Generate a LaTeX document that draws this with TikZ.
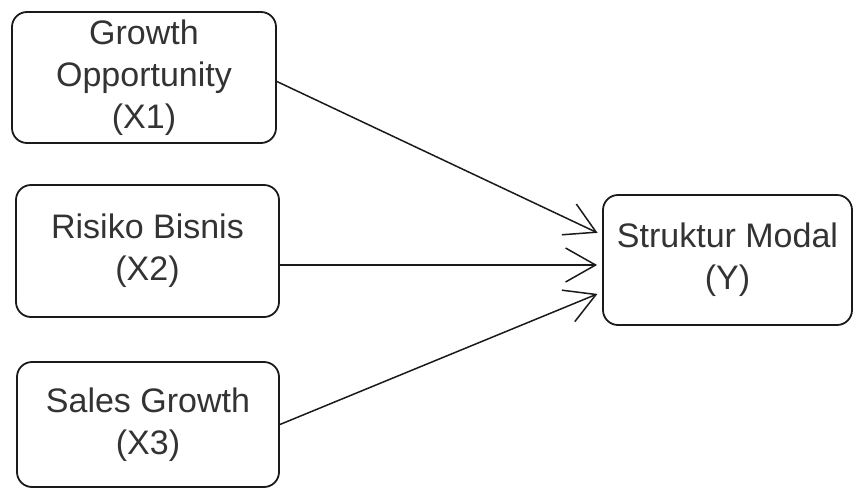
\documentclass[tikz,border=0pt]{standalone}
\usepackage{fontspec}
\setmainfont{Liberation Sans}
\usetikzlibrary{arrows.meta}
\definecolor{txt}{HTML}{333333}
\definecolor{edge}{HTML}{1A1A1A}
\begin{document}
\begin{tikzpicture}[x=1pt,y=1pt,
  box/.style={draw=edge, line width=1.8pt, rounded corners=15pt, align=center,
    font=\fontsize{34}{42}\selectfont, text=txt, inner sep=0pt},
  conn/.style={draw=edge, line width=1.5pt, -{Straight Barb[length=30pt,width=34pt,line width=1.5pt]}, shorten >=5pt}]
\useasboundingbox (0,0) rectangle (853,-488);
\node[box, minimum width=264pt, minimum height=131pt] (x1) at (144,-77.5) {Growth\\Opportunity\\(X1)};
\node[box, minimum width=263pt, minimum height=132pt] (x2) at (147.5,-251) {Risiko Bisnis\\(X2)};
\node[box, minimum width=262pt, minimum height=125pt] (x3) at (148,-424.5) {Sales Growth\\(X3)};
\node[box, minimum width=249pt, minimum height=130pt] (y) at (727.5,-260) {Struktur Modal\\(Y)};
\coordinate (s1) at ([yshift=-4pt]x1.east);
\coordinate (s2) at ([yshift=-14pt]x2.east);
\coordinate (s3) at (x3.east);
\coordinate (e1) at ([yshift=25pt]y.west);
\coordinate (e2) at ([yshift=-5pt]y.west);
\coordinate (e3) at ([yshift=-32pt]y.west);
\draw[conn] (s1) -- (e1);
\draw[conn] (s2) -- (e2);
\draw[conn] (s3) -- (e3);
\end{tikzpicture}
\end{document}
